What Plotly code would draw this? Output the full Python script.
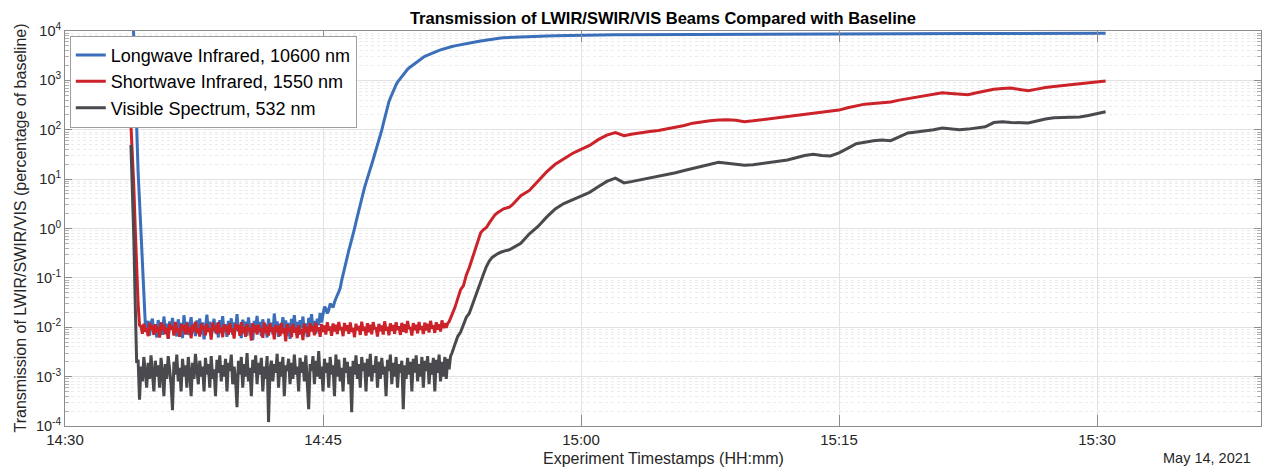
import pandas as pd
import plotly.graph_objects as go

# Seconds elapsed since 14:30:00 on May 14, 2021 (shared sampling for all three beams)
elapsed_s = [
    230, 235,
    240, 245, 250, 255, 260, 265, 270, 275, 280, 285, 290, 295,
    300, 305, 310, 315, 320, 325, 330, 335, 340, 345, 350, 355,
    360, 365, 370, 375, 380, 385, 390, 395, 400, 405, 410, 415,
    420, 425, 430, 435, 440, 445, 450, 455, 460, 465, 470, 475,
    480, 485, 490, 495, 500, 505, 510, 515, 520, 525, 530, 535,
    540, 545, 550, 555, 560, 565, 570, 575, 580, 585, 590, 595,
    600, 605, 610, 615, 620, 625, 630, 635, 640, 645, 650, 655,
    660, 665, 670, 675, 680, 685, 690, 695, 700, 705, 710, 715,
    720, 725, 730, 735, 740, 745, 750, 755, 760, 765, 770, 775,
    780, 785, 790, 795, 800, 805, 810, 815, 820, 825, 830, 835,
    840, 845, 850, 855, 860, 865, 870, 875, 880, 885, 890, 895,
    900, 905, 910, 915, 920, 925, 930, 935, 940, 945, 950, 955,
    960, 965, 970, 975, 980, 985, 990, 995, 1000, 1005, 1010, 1015,
    1020, 1025, 1030, 1035, 1040, 1045, 1050, 1055, 1060, 1065, 1070, 1075,
    1080, 1085, 1090, 1095, 1100, 1105, 1110, 1115, 1120, 1125, 1130, 1135,
    1140, 1145, 1150, 1155, 1160, 1165, 1170, 1175, 1180, 1185, 1190, 1195,
    1200, 1205, 1210, 1215, 1220, 1225, 1230, 1235, 1240, 1245, 1250, 1255,
    1260, 1265, 1270, 1275, 1280, 1285, 1290, 1295, 1300, 1305, 1310, 1315,
    1320, 1325, 1330, 1335, 1340, 1345, 1350,
    1360, 1370, 1380, 1390, 1400, 1410, 1420, 1430, 1440, 1450,
    1460, 1470, 1480, 1490, 1500, 1510, 1520, 1530, 1540, 1550, 1560,
    1590, 1620, 1650, 1680, 1710, 1740, 1770, 1800, 1830, 1860,
    1890, 1920, 1950, 1980, 2010, 2040, 2070, 2100, 2130, 2160,
    2190, 2220, 2250, 2280, 2310, 2340, 2370, 2400, 2430, 2460,
    2490, 2520, 2550, 2580, 2610, 2640, 2670, 2700, 2730, 2760,
    2790, 2820, 2850, 2880, 2910, 2940, 2970, 3000, 3030, 3060,
    3090, 3120, 3150, 3180, 3210, 3240, 3270, 3300, 3330, 3360,
    3390, 3420, 3450, 3480, 3510, 3540, 3570, 3600, 3630,
]

# Longwave Infrared, 10600 nm (percentage of baseline)
lwir_pct = [
    30000, 20000, 8000, 900, 54, 14, 3.6, 0.9, 0.21, 0.05, 0.012,
    0.0080, 0.0135, 0.0068, 0.0120, 0.0150, 0.0075, 0.0110, 0.0062, 0.0140, 0.0092, 0.0125, 0.0070,
    0.0165, 0.0088, 0.0118, 0.0058, 0.0132, 0.0098, 0.0155, 0.0072, 0.0112, 0.0065, 0.0145, 0.0085,
    0.0122, 0.0060, 0.0175, 0.0094, 0.0128, 0.0070, 0.0108, 0.0160, 0.0078, 0.0118, 0.0066, 0.0138,
    0.0090, 0.0150, 0.0072, 0.0126, 0.0057, 0.0115, 0.0180, 0.0084, 0.0130, 0.0068, 0.0105, 0.0148,
    0.0076, 0.0122, 0.0062, 0.0140, 0.0096, 0.0168, 0.0080, 0.0116, 0.0064, 0.0135, 0.0088, 0.0152,
    0.0070, 0.0125, 0.0092, 0.0185, 0.0082, 0.0112, 0.0060, 0.0142, 0.0100, 0.0130, 0.0068, 0.0158,
    0.0086, 0.0120, 0.0055, 0.0135, 0.0095, 0.0170, 0.0078, 0.0128, 0.0066, 0.0145, 0.0090, 0.0115,
    0.0062, 0.0150, 0.0084, 0.0124, 0.0072, 0.0190, 0.0098, 0.0132, 0.0064, 0.0118, 0.0080, 0.0160,
    0.0092, 0.0138, 0.0068, 0.0122, 0.0058, 0.0148, 0.0102, 0.0175, 0.0086, 0.0128, 0.0070, 0.0140,
    0.0096, 0.0165, 0.0078, 0.0120, 0.0063, 0.0155, 0.0108, 0.0185, 0.0090, 0.0135, 0.0074, 0.0150,
    0.0110, 0.0195, 0.0125,
    0.020, 0.026, 0.024, 0.019, 0.022, 0.030, 0.028, 0.025, 0.032, 0.040, 0.045, 0.052,
    0.062, 0.088, 0.12, 0.16, 0.21, 0.28, 0.36, 0.46, 0.58, 0.77, 1.0, 1.35,
    1.8, 2.4, 3.2, 4.2, 5.4, 6.8, 8.5, 10.3, 12.5, 16, 20, 25,
    31, 39, 48, 60, 74, 98, 130, 175, 230, 295, 370, 440,
    520, 615, 720, 820, 920, 1010, 1100, 1210, 1330, 1440, 1550, 1670,
    1780, 1880, 1980, 2090, 2200, 2320, 2450, 2600, 2750, 2850, 2950, 3050,
    3150, 3250, 3350, 3450, 3550, 3650, 3750, 3850, 3950, 4050, 4150, 4250,
    4350, 4440, 4520, 4610, 4700, 4780, 4850,
    5000, 5150, 5300, 5450, 5650, 5750, 5900, 6000, 6150, 6300,
    6450, 6550, 6700, 6850, 6950, 7100, 7200, 7300, 7350, 7450, 7500,
    7600, 7700, 7800, 7900, 8000, 8080, 8150, 8250,
    8280, 8300, 8330, 8350, 8360, 8380, 8400, 8420, 8430, 8450,
    8470, 8480, 8500, 8520, 8530, 8550, 8560, 8580, 8590, 8600,
    8620, 8630, 8640, 8650, 8670, 8680, 8690, 8700, 8710, 8720,
    8730, 8740, 8750, 8760, 8770, 8780, 8790, 8800, 8810, 8820,
    8830, 8840, 8850, 8860, 8870, 8875, 8880, 8890, 8900, 8910,
    8920, 8925, 8930, 8940, 8950, 8955, 8960, 8970, 8980, 8990, 9000,
]

# Shortwave Infrared, 1550 nm
swir_pct = [
    125, 40, 7.3, 1.0, 0.14, 0.03, 0.011,
    0.0105, 0.0074, 0.0118, 0.0082, 0.0096, 0.0066, 0.0122, 0.0088, 0.0108, 0.0070, 0.0115, 0.0079,
    0.0101, 0.0062, 0.0125, 0.0085, 0.0112, 0.0072, 0.0098, 0.0058, 0.0119, 0.0090, 0.0106, 0.0068,
    0.0128, 0.0080, 0.0094, 0.0064, 0.0116, 0.0086, 0.0110, 0.0071, 0.0123, 0.0077, 0.0100, 0.0060,
    0.0113, 0.0083, 0.0130, 0.0075, 0.0097, 0.0065, 0.0120, 0.0089, 0.0104, 0.0069, 0.0117, 0.0081,
    0.0095, 0.0056, 0.0124, 0.0087, 0.0109, 0.0073, 0.0126, 0.0078, 0.0099, 0.0063, 0.0114, 0.0084,
    0.0107, 0.0070, 0.0121, 0.0080, 0.0093, 0.0059, 0.0118, 0.0086, 0.0111, 0.0067, 0.0127, 0.0076,
    0.0102, 0.0064, 0.0116, 0.0083, 0.0097, 0.0054, 0.0120, 0.0079, 0.0108, 0.0071, 0.0113, 0.0085,
    0.0094, 0.0061, 0.0125, 0.0077, 0.0104, 0.0068, 0.0119, 0.0082, 0.0099, 0.0057, 0.0112, 0.0080,
    0.0106, 0.0066, 0.0122, 0.0075, 0.0096, 0.0052, 0.0115, 0.0081, 0.0101, 0.0063, 0.0117, 0.0078,
    0.0098, 0.0060, 0.0110, 0.0074, 0.0092, 0.0055, 0.0118, 0.0079, 0.0103, 0.0065, 0.0121, 0.0083,
    0.0107, 0.0069, 0.0124, 0.0084, 0.0100, 0.0064, 0.0116, 0.0080, 0.0109, 0.0071, 0.0126, 0.0086,
    0.0104, 0.0067, 0.0119, 0.0082, 0.0113, 0.0073, 0.0128, 0.0088, 0.0101, 0.0066, 0.0122, 0.0084,
    0.0110, 0.0074, 0.0125, 0.0081, 0.0097, 0.0063, 0.0118, 0.0087, 0.0106, 0.0070, 0.0130, 0.0085,
    0.0103, 0.0068, 0.0121, 0.0079, 0.0112, 0.0072, 0.0127, 0.0090, 0.0099, 0.0065, 0.0117, 0.0083,
    0.0108, 0.0071, 0.0132, 0.0086, 0.0102, 0.0069, 0.0120, 0.0084, 0.0111, 0.0074, 0.0126, 0.0088,
    0.0105, 0.0070, 0.0123, 0.0081, 0.0115, 0.0076, 0.0134, 0.0092, 0.0100, 0.0068, 0.0121, 0.0087,
    0.0112, 0.0075, 0.0128, 0.0089, 0.0106, 0.0073, 0.0124, 0.0086, 0.0118, 0.0078, 0.0135, 0.0094,
    0.0109, 0.0077, 0.0126, 0.0090, 0.0115, 0.0082, 0.0138, 0.0096, 0.0120, 0.0098,
    0.012, 0.013, 0.015, 0.018,
    0.025, 0.040, 0.058, 0.070, 0.115, 0.16, 0.24, 0.36, 0.55, 0.82,
    0.95, 1.05, 1.3, 1.6, 1.9, 2.1, 2.3, 2.5, 2.6, 2.7, 3.0,
    4.6, 5.9, 9.0, 14, 20, 26, 33, 40, 48, 63,
    78, 88, 76, 82, 88, 92, 97, 104, 110, 122,
    136, 145, 152, 158, 160, 156, 146, 152, 160, 168,
    175, 185, 198, 210, 222, 232, 240, 250, 278, 305,
    330, 340, 352, 365, 398, 425, 455, 490, 525, 560,
    545, 525, 512, 560, 615, 660, 685, 700, 655, 615,
    665, 720, 750, 780, 810, 840, 880, 930, 975,
]

# Visible Spectrum, 532 nm
vis_pct = [
    49, 8, 0.68, 0.03, 0.0019,
    0.0022, 0.00034, 0.0016, 0.0008, 0.0025, 0.0011, 0.0006, 0.0019, 0.0009, 0.0027, 0.0013, 0.0005,
    0.0021, 0.0010, 0.0017, 0.0006, 0.0024, 0.0012, 0.0004, 0.0018, 0.0009, 0.0026, 0.0014, 0.0007,
    0.00021, 0.0020, 0.0011, 0.0028, 0.0008, 0.0015, 0.0005, 0.0023, 0.0010, 0.0017, 0.0006, 0.0025,
    0.0012, 0.0004, 0.0019, 0.0009, 0.0029, 0.0013, 0.0007, 0.0021, 0.0010, 0.0016, 0.0005, 0.0024,
    0.0011, 0.0018, 0.0006, 0.0026, 0.0009, 0.0014, 0.0004, 0.0022, 0.0012, 0.0027, 0.0008, 0.0017,
    0.0010, 0.0023, 0.0005, 0.0019, 0.0013, 0.0028, 0.0007, 0.0016, 0.0009, 0.00024, 0.0021, 0.0011,
    0.0025, 0.0006, 0.0018, 0.0010, 0.0030, 0.0008, 0.0015, 0.0004, 0.0022, 0.0012, 0.0027, 0.0007,
    0.0019, 0.0011, 0.0024, 0.0005, 0.0016, 0.0009, 0.0026, 0.00012, 0.0014, 0.0021, 0.0008, 0.0018,
    0.0012, 0.0029, 0.0006, 0.0020, 0.0010, 0.0025, 0.0004, 0.0017, 0.0013, 0.0023, 0.0007, 0.0019,
    0.0009, 0.0028, 0.0011, 0.0016, 0.0005, 0.0024, 0.0012, 0.0020, 0.0008, 0.0027, 0.0010, 0.00022,
    0.0018, 0.0013, 0.0026, 0.0007, 0.0021, 0.0010, 0.0033, 0.0009, 0.0016, 0.0005, 0.0023, 0.0012,
    0.0019, 0.0006, 0.0025, 0.0011, 0.0017, 0.0004, 0.0028, 0.0010, 0.0022, 0.0008, 0.0015, 0.0005,
    0.0024, 0.0012, 0.0020, 0.0007, 0.0016, 0.00019, 0.0021, 0.0011, 0.0027, 0.0009, 0.0018, 0.0006,
    0.0025, 0.0013, 0.0019, 0.0005, 0.0023, 0.0010, 0.0029, 0.0008, 0.0017, 0.0012, 0.0026, 0.0006,
    0.0020, 0.0009, 0.0024, 0.0011, 0.0016, 0.0004, 0.0022, 0.0013, 0.0028, 0.0007, 0.0019, 0.0010,
    0.0025, 0.0006, 0.0018, 0.0012, 0.0021, 0.00022, 0.0017, 0.0009, 0.0024, 0.0011, 0.0020, 0.0005,
    0.0023, 0.0012, 0.0027, 0.0008, 0.0018, 0.0010, 0.0025, 0.0006, 0.0021, 0.0013, 0.0026, 0.0007,
    0.0019, 0.0011, 0.0024, 0.0005, 0.0022, 0.0012, 0.0028, 0.0008, 0.0020, 0.0010, 0.0025, 0.0009,
    0.0023, 0.0014, 0.0026,
    0.0030,
    0.0045, 0.0065, 0.0080, 0.011, 0.016, 0.019, 0.028, 0.040, 0.060, 0.085,
    0.12, 0.17, 0.22, 0.26, 0.29, 0.31, 0.33, 0.35, 0.36, 0.37, 0.40,
    0.50, 0.78, 1.1, 1.7, 2.5, 3.2, 3.8, 4.5, 5.4, 7.0,
    9.0, 10.5, 8.4, 9.0, 9.8, 10.6, 11.4, 12.2, 13.5, 15,
    16.5, 18.5, 20.5, 22, 21, 20, 19, 19.5, 20.5, 21.5,
    23, 24.5, 27, 30, 32, 30, 29.5, 34, 42, 52,
    56, 60, 62, 60, 72, 86, 90, 94, 100, 108,
    104, 100, 103, 107, 115, 140, 145, 141, 138, 137,
    150, 165, 175, 176, 178, 182, 195, 212, 232,
]

series_names = ["Longwave Infrared, 10600 nm", "Shortwave Infrared, 1550 nm", "Visible Spectrum, 532 nm"]
series_colors = ["#3b6fba", "#cc2229", "#4a4a4e"]
y_tick_vals = [1e-4, 1e-3, 1e-2, 1e-1, 1e0, 1e1, 1e2, 1e3, 1e4]
y_tick_text = ["10<sup>-4</sup>", "10<sup>-3</sup>", "10<sup>-2</sup>", "10<sup>-1</sup>",
               "10<sup>0</sup>", "10<sup>1</sup>", "10<sup>2</sup>", "10<sup>3</sup>", "10<sup>4</sup>"]

for s in (lwir_pct, swir_pct, vis_pct):
    assert len(s) == len(elapsed_s), (len(s), len(elapsed_s))

base = pd.Timestamp("2021-05-14 14:30:00")
times = base + pd.to_timedelta(elapsed_s, unit="s")

FONT = "Liberation Sans, Arial, Helvetica, sans-serif"
AX = "#8c8c8c"
TXT = "#262626"

fig = go.Figure()
for name, vals, col in zip(series_names, (lwir_pct, swir_pct, vis_pct), series_colors):
    fig.add_trace(go.Scatter(x=times, y=vals, mode="lines", name=name,
                             line=dict(color=col, width=3)))

fig.update_layout(
    width=1262, height=470,
    margin=dict(l=65, r=1, t=31, b=44),
    paper_bgcolor="white", plot_bgcolor="white",
    font=dict(family=FONT, color=TXT, size=15),
    title=dict(text="<b>Transmission of LWIR/SWIR/VIS Beams Compared with Baseline</b>",
               x=0.5, xref="paper", xanchor="center", y=1 - 18 / 470, yref="container",
               yanchor="middle", font=dict(size=16.5, color="#000000", family=FONT)),
    legend=dict(x=0.004, y=0.988, xanchor="left", yanchor="top",
                bgcolor="white", bordercolor="#a0a0a0", borderwidth=1,
                font=dict(size=18, color="#000000", family=FONT),
                itemwidth=30, tracegroupgap=0),
    showlegend=True,
)

fig.update_xaxes(
    type="date",
    range=["2021-05-14 14:30:00", "2021-05-14 15:39:32"],
    tick0="2021-05-14 14:30:00", dtick=15 * 60 * 1000, tickformat="%H:%M",
    showgrid=True, gridcolor="#e2e2e2", gridwidth=1,
    ticks="inside", ticklen=11, tickcolor=AX, tickwidth=1,
    showline=True, linecolor=AX, linewidth=1, mirror="ticks",
    tickfont=dict(size=15, color=TXT), zeroline=False, automargin=False,
)

fig.update_yaxes(
    type="log", range=[-4, 4],
    tickmode="array", tickvals=y_tick_vals, ticktext=y_tick_text,
    showgrid=True, gridcolor="#e2e2e2", gridwidth=1,
    ticks="inside", ticklen=7, tickcolor=AX, tickwidth=1,
    showline=True, linecolor=AX, linewidth=1, mirror="ticks",
    tickfont=dict(size=14.5, color=TXT), zeroline=False, automargin=False,
    minor=dict(dtick="D1", showgrid=True, gridcolor="#ebebeb", griddash="dot",
               ticks="inside", ticklen=4, tickcolor="#b0b0b0"),
)

fig.add_annotation(text="Experiment Timestamps (HH:mm)", xref="paper", yref="paper",
                   x=0.5, y=-(458 - 426) / 395, xanchor="center", yanchor="middle",
                   showarrow=False, font=dict(size=16, color=TXT, family=FONT))
fig.add_annotation(text="Transmission of LWIR/SWIR/VIS (percentage of baseline)",
                   xref="paper", yref="paper", x=-(65 - 20) / 1196, y=0.5,
                   xanchor="center", yanchor="middle", textangle=-90,
                   showarrow=False, font=dict(size=16, color=TXT, family=FONT))
fig.add_annotation(text="May 14, 2021", xref="paper", yref="paper",
                   x=(1253 - 65) / 1196, y=-(458 - 426) / 395, xanchor="right", yanchor="middle",
                   showarrow=False, font=dict(size=14.5, color=TXT, family=FONT))

fig.write_html("out.html", config={"displayModeBar": False})

# remove the browser's default page margin so the figure sits at the window's top-left corner
with open("out.html", "r", encoding="utf-8") as f:
    page = f.read()
page = page.replace("<head>", "<head><style>html,body{margin:0;padding:0;overflow:hidden;}</style>", 1)
with open("out.html", "w", encoding="utf-8") as f:
    f.write(page)
